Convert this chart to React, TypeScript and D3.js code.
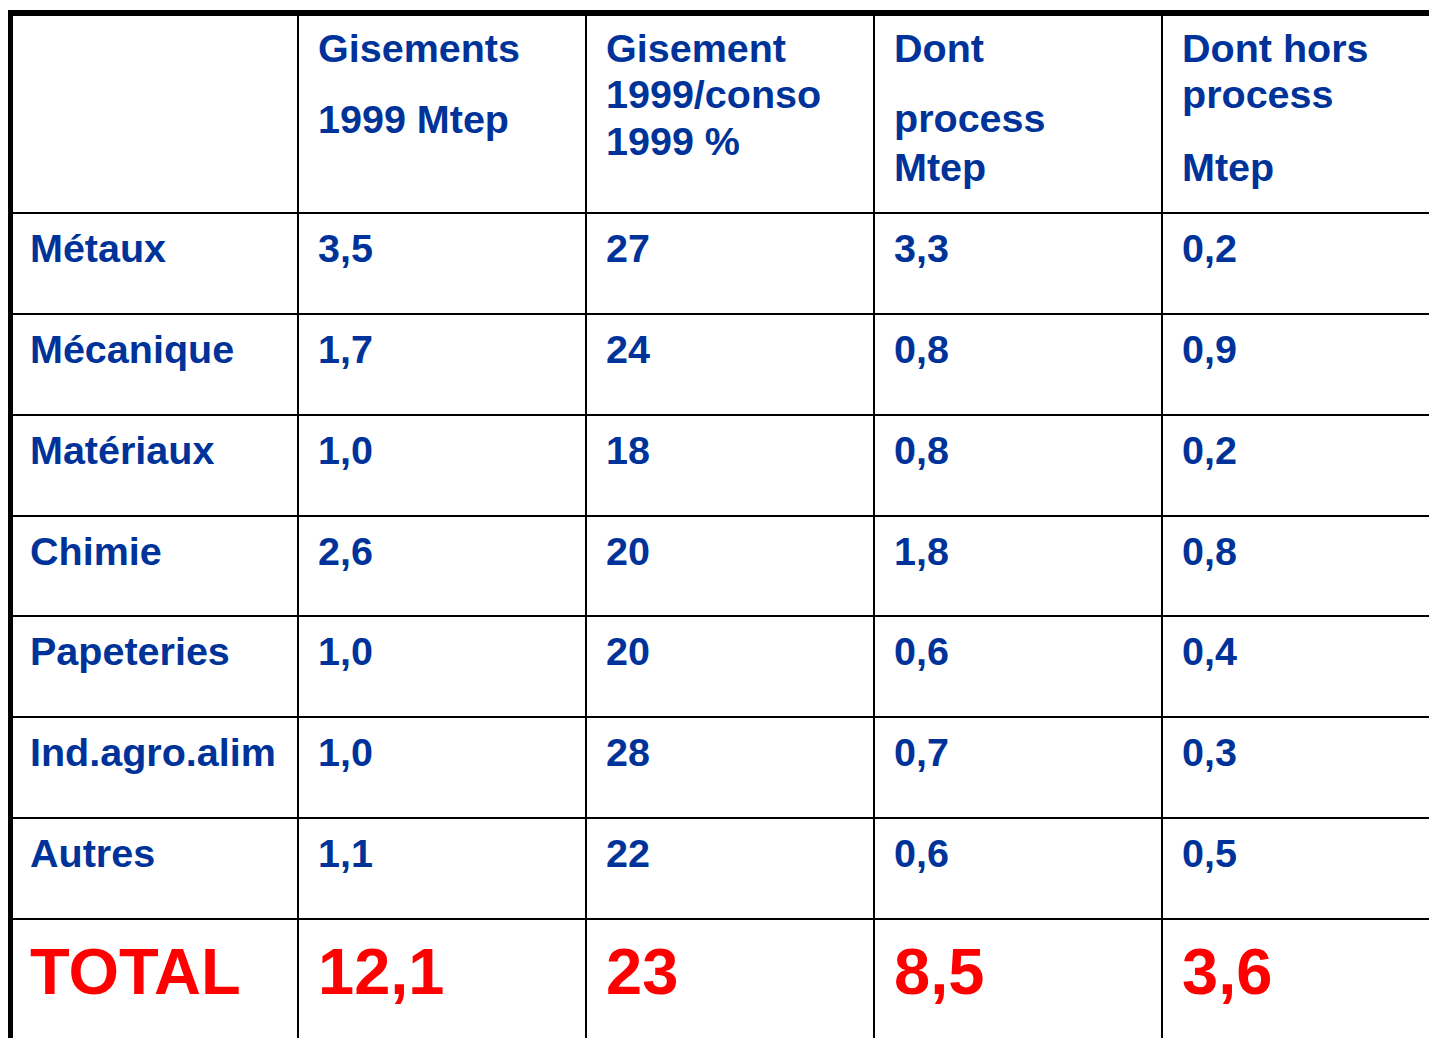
import * as d3 from "d3"

const BLUE = "#003399"
const RED = "#FF0000"
const FONT = "'Liberation Sans', Arial, sans-serif"

// header lines per column (null = blank spacer line)
const headerCols: string[][] = [
  ["Gisements", "", "1999 Mtep"],
  ["Gisement", "1999/conso", "1999 %"],
  ["Dont", "", "process", "Mtep"],
  ["Dont hors", "process", "", "Mtep"],
]
// custom baselines within header (offset from top line)
const headerBaselines: number[][] = [
  [49, 0, 120],
  [49, 95, 142],
  [49, 0, 119, 168],
  [49, 95, 0, 168],
]

const categories = ["Métaux", "Mécanique", "Matériaux", "Chimie", "Papeteries", "Ind.agro.alim", "Autres"]
const gisements = ["3,5", "1,7", "1,0", "2,6", "1,0", "1,0", "1,1"]
const ratioConso = ["27", "24", "18", "20", "20", "28", "22"]
const dontProcess = ["3,3", "0,8", "0,8", "1,8", "0,6", "0,7", "0,6"]
const horsProcess = ["0,2", "0,9", "0,2", "0,8", "0,4", "0,3", "0,5"]
const totals = ["TOTAL", "12,1", "23", "8,5", "3,6"]

const W = 1429
const H = 1038

export default function App() {
  const tableTop = 13
  const headerBottom = 213
  const bodyBottom = 919
  const tableLeft = 10.5
  const firstColRight = 298

  const colKeys = ["g", "r", "p", "h"]
  const x = d3.scaleBand<string>().domain(colKeys).range([firstColRight, firstColRight + 288 * 4])
  const y = d3.scaleBand<string>().domain(categories).range([headerBottom, bodyBottom])

  const values = [gisements, ratioConso, dontProcess, horsProcess]
  const rowLines = [headerBottom, ...categories.map((c) => (y(c) as number) + y.bandwidth())]

  return (
    <svg
      width={W}
      height={H}
      style={{ position: "absolute", left: 0, top: 0, background: "#fff" }}
      xmlns="http://www.w3.org/2000/svg"
    >
      <rect x={0} y={0} width={W} height={H} fill="#fff" />
      {/* horizontal grid lines */}
      {rowLines.map((ly, i) => (
        <line key={"h" + i} x1={tableLeft} x2={W} y1={Math.round(ly)} y2={Math.round(ly)} stroke="#000" strokeWidth={2} />
      ))}
      {/* vertical grid lines */}
      {colKeys.map((k) => (
        <line key={"v" + k} x1={x(k)} x2={x(k)} y1={tableTop} y2={H} stroke="#000" strokeWidth={2} />
      ))}
      {/* outer border */}
      <line x1={8} x2={W} y1={13} y2={13} stroke="#000" strokeWidth={6} />
      <line x1={tableLeft} x2={tableLeft} y1={10} y2={H} stroke="#000" strokeWidth={5} />

      <g fontFamily={FONT} fontWeight="bold" fill={BLUE} fontSize={39.5}>
        {/* header */}
        {headerCols.map((lines, ci) =>
          lines.map((t, li) =>
            t ? (
              <text key={"hd" + ci + li} x={(x(colKeys[ci]) as number) + 20} y={tableTop + headerBaselines[ci][li]}>
                {t}
              </text>
            ) : null,
          ),
        )}
        {/* body */}
        {categories.map((c) => (
          <text key={"c" + c} x={30} y={(y(c) as number) + 49}>
            {c}
          </text>
        ))}
        {values.map((col, ci) =>
          col.map((v, ri) => (
            <text key={"v" + ci + ri} x={(x(colKeys[ci]) as number) + 20} y={(y(categories[ri]) as number) + 49}>
              {v}
            </text>
          )),
        )}
      </g>
      {/* totals */}
      <g fontFamily={FONT} fontWeight="bold" fill={RED} fontSize={65}>
        {totals.map((t, i) => (
          <text key={"t" + i} x={i === 0 ? 30 : (x(colKeys[i - 1]) as number) + 20} y={bodyBottom + 75}>
            {t}
          </text>
        ))}
      </g>
    </svg>
  )
}
